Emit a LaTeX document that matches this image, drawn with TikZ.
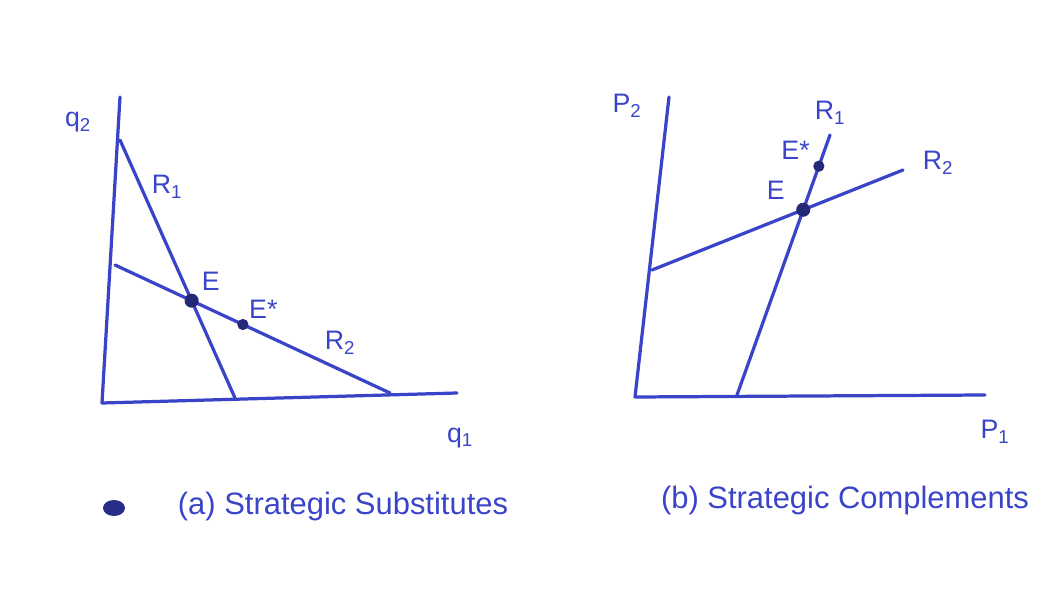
\documentclass[tikz,border=0pt]{standalone}
\usepackage{fontspec}
\setmainfont{Liberation Sans}
\usetikzlibrary{positioning,calc}

\definecolor{ink}{RGB}{58,68,200}
\definecolor{inkdark}{RGB}{35,40,120}

\begin{document}
\begin{tikzpicture}[x=0.025cm,y=-0.025cm,
    every node/.style={text=ink, font=\fontsize{19}{22}\selectfont},
    curve/.style={draw=ink, line width=2.3pt, line cap=round, line join=round},
    eqdot/.style={circle, fill=inkdark, inner sep=0pt, minimum size=#1},
    eqdot/.default=8pt,
    caption/.style={font=\fontsize{22}{26}\selectfont}]
    \useasboundingbox (0,0) rectangle (1057,596);

    % (a) Strategic substitutes
    \coordinate (a0) at (102,403);
    \coordinate (aY) at (120,97);
    \coordinate (aX) at (457,393);
    \coordinate (aR1top) at (120,140);
    \coordinate (aR1bot) at (235,398);
    \coordinate (aR2left) at (115,265);
    \coordinate (aR2right) at (390,393);
    \draw[curve] (aY) -- (a0) -- (aX);
    \draw[curve] (aR1top) -- (aR1bot);
    \draw[curve] (aR2left) -- (aR2right);
    \node[eqdot=10pt] (aE) at (intersection of aR1top--aR1bot and aR2left--aR2right) {};
    \node[eqdot] (aEstar) at ($(aR2left)!0.465!(aR2right)$) {};
    \node[above right=0pt and 0pt of aE] (aElab) {E};
    \node[above right=-2pt and -2pt of aEstar] (aEstarlab) {E*};
    \node (aR1lab) at (167,187) {R\textsubscript{1}};
    \node (aR2lab) at (340,343) {R\textsubscript{2}};
    \node (aq2) at (78,122) {q\textsubscript{2}};
    \node (aq1) at (460,438) {q\textsubscript{1}};
    \fill[inkdark!80!ink] (114,508) ellipse (11 and 8);
    \node[caption] (acap) at (343,506) {(a) Strategic Substitutes};

    % (b) Strategic complements
    \coordinate (b0) at (635,397);
    \coordinate (bY) at (669,97);
    \coordinate (bX) at (985,395);
    \coordinate (bR1bot) at (737,395);
    \coordinate (bR1top) at (830,135);
    \coordinate (bR2left) at (652,270);
    \coordinate (bR2right) at (903,170);
    \draw[curve] (bY) -- (b0) -- (bX);
    \draw[curve] (bR1bot) -- (bR1top);
    \draw[curve] (bR2left) -- (bR2right);
    \node[eqdot=10pt] (bE) at (intersection of bR1bot--bR1top and bR2left--bR2right) {};
    \node[eqdot] (bEstar) at ($(bR1bot)!0.88!(bR1top)$) {};
    \node[above left=0pt and 6pt of bE] (bElab) {E};
    \node[above left=-2pt and 0pt of bEstar] (bEstarlab) {E*};
    \node (bR1lab) at (830,113) {R\textsubscript{1}};
    \node (bR2lab) at (938,163) {R\textsubscript{2}};
    \node (bP2) at (627,106) {P\textsubscript{2}};
    \node (bP1) at (995,432) {P\textsubscript{1}};
    \node[caption] (bcap) at (845,500) {(b) Strategic Complements};
\end{tikzpicture}
\end{document}
